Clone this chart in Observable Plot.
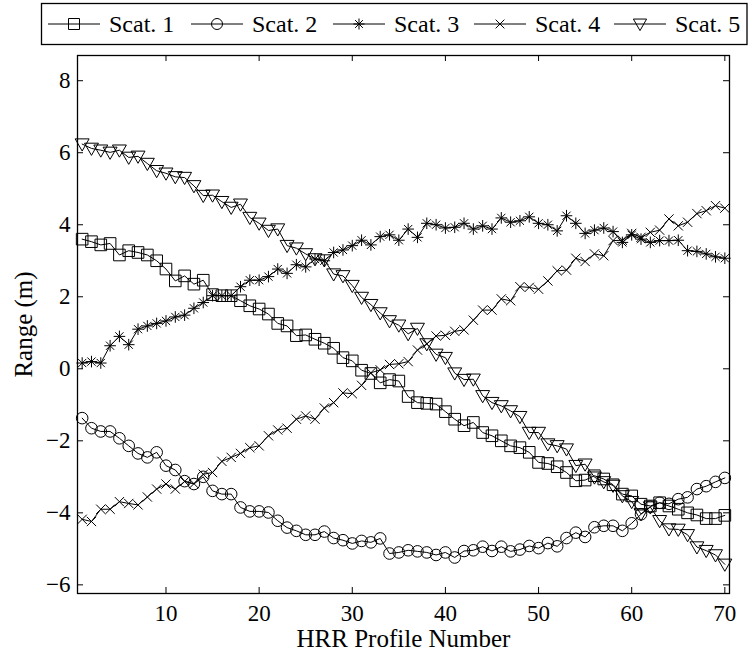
<!DOCTYPE html>
<html><head><meta charset="utf-8">
<script src="https://cdn.jsdelivr.net/npm/d3@7"></script>
<script src="https://cdn.jsdelivr.net/npm/@observablehq/plot@0.6"></script>
<style>
body{margin:0;background:#fff;}
#chart{width:748px;height:655px;position:relative;background:#fff;}
#chart svg{display:block;}
#chart svg, #chart svg text{font-family:"Liberation Serif","Times New Roman",serif !important;}
#chart g[aria-label="x-axis tick label"] text, #chart g[aria-label="y-axis tick label"] text{font-size:23px !important;}
#chart .legtext{font-size:24px !important;}
#chart .axlabel text{font-size:25px !important;}
</style></head><body><div id="chart"></div>
<script>
// ---- data ----
const seriesNames = ["Scat. 1", "Scat. 2", "Scat. 3", "Scat. 4", "Scat. 5"];
const xTicks = [10, 20, 30, 40, 50, 60, 70];
const yTicks = [-6, -4, -2, 0, 2, 4, 6, 8];
const xLabel = "HRR Profile Number";
const yLabel = "Range (m)";

const scat1 = [3.60,3.53,3.44,3.48,3.16,3.28,3.23,3.16,3.00,2.77,
  2.44,2.58,2.35,2.46,2.06,2.03,2.03,1.89,1.75,1.66,
  1.52,1.26,1.19,0.92,0.94,0.82,0.71,0.57,0.31,0.22,
  -0.04,-0.13,-0.39,-0.30,-0.34,-0.77,-0.94,-0.96,-0.98,-1.19,
  -1.40,-1.58,-1.49,-1.77,-1.86,-2.00,-2.14,-2.19,-2.32,-2.60,
  -2.63,-2.72,-2.88,-3.11,-3.09,-2.97,-3.06,-3.22,-3.48,-3.53,
  -3.76,-3.81,-3.72,-3.81,-3.90,-4.00,-4.06,-4.16,-4.16,-4.07];
const scat2 = [-1.37,-1.65,-1.74,-1.74,-1.93,-2.14,-2.35,-2.46,-2.32,-2.69,
  -2.81,-3.12,-3.20,-3.00,-3.39,-3.48,-3.48,-3.85,-3.96,-3.96,
  -3.99,-4.22,-4.41,-4.50,-4.61,-4.61,-4.52,-4.70,-4.76,-4.85,
  -4.78,-4.82,-4.71,-5.13,-5.10,-5.04,-5.07,-5.10,-5.17,-5.10,
  -5.24,-5.06,-5.04,-4.94,-5.06,-4.94,-5.07,-5.02,-4.92,-4.98,
  -4.84,-4.93,-4.70,-4.55,-4.67,-4.40,-4.36,-4.36,-4.50,-4.29,
  -4.04,-3.83,-3.72,-3.75,-3.62,-3.57,-3.34,-3.26,-3.14,-3.03];
const scat3 = [0.16,0.20,0.16,0.64,0.90,0.67,1.10,1.19,1.26,1.33,
  1.44,1.49,1.68,1.84,2.03,2.03,2.03,2.28,2.46,2.46,
  2.56,2.77,2.65,2.89,2.83,3.05,3.00,3.23,3.30,3.42,
  3.57,3.44,3.67,3.72,3.57,3.88,3.65,4.04,4.00,3.91,
  3.93,4.04,3.88,3.97,3.88,4.19,4.07,4.11,4.22,4.04,
  4.00,3.83,4.25,4.04,3.76,3.85,3.91,3.81,3.51,3.72,
  3.60,3.51,3.56,3.56,3.57,3.28,3.26,3.19,3.11,3.07];
const scat4 = [-4.18,-4.24,-3.90,-3.90,-3.69,-3.74,-3.78,-3.56,-3.34,-3.20,
  -3.34,-3.13,-3.19,-2.93,-2.88,-2.57,-2.46,-2.35,-2.19,-2.14,
  -1.86,-1.70,-1.65,-1.40,-1.31,-1.40,-1.09,-0.94,-0.67,-0.69,
  -0.46,-0.11,-0.03,0.12,0.14,0.20,0.52,0.69,0.91,0.93,
  1.04,1.08,1.35,1.63,1.63,1.94,1.89,2.28,2.26,2.21,
  2.44,2.72,2.74,3.07,2.98,3.19,3.14,3.56,3.57,3.76,
  3.65,3.79,3.85,4.16,3.97,4.07,4.31,4.39,4.53,4.46];
const scat5 = [6.24,6.12,6.07,6.01,6.07,5.87,5.90,5.70,5.50,5.43,
  5.33,5.31,5.08,4.81,4.82,4.64,4.48,4.57,4.20,4.04,
  3.84,3.88,3.42,3.35,3.19,3.05,3.02,2.63,2.58,2.31,
  1.98,1.78,1.55,1.33,1.21,0.97,1.12,0.69,0.40,0.31,
  -0.12,-0.30,-0.29,-0.75,-0.94,-1.03,-1.17,-1.33,-1.77,-1.77,
  -2.09,-2.14,-2.23,-2.69,-2.65,-3.01,-3.14,-3.24,-3.53,-3.69,
  -4.03,-3.84,-4.22,-4.45,-4.46,-4.61,-4.95,-5.05,-5.17,-5.43];

// ---- marker shapes ----
function makeSymbol(fn) { return { draw(ctx, size) { fn(ctx, Math.sqrt(size / Math.PI)); } }; }
const symSquare = makeSymbol((c, r) => { const h = r; c.moveTo(-h, -h); c.lineTo(h, -h); c.lineTo(h, h); c.lineTo(-h, h); c.closePath(); });
const symCircle = makeSymbol((c, r) => { c.moveTo(r, 0); c.arc(0, 0, r, 0, 2 * Math.PI); });
const symAst = makeSymbol((c, r) => { for (const a of [0, 45, 90, 135]) { const t = a * Math.PI / 180, dx = r * Math.cos(t), dy = r * Math.sin(t); c.moveTo(-dx, -dy); c.lineTo(dx, dy); } });
const symTimes = makeSymbol((c, r) => { const h = r * 0.8; c.moveTo(-h, -h); c.lineTo(h, h); c.moveTo(h, -h); c.lineTo(-h, h); });
const symTri = makeSymbol((c, r) => { c.moveTo(-r * 1.2, -r * 0.9); c.lineTo(r * 1.2, -r * 0.9); c.lineTo(0, r * 1.2); c.closePath(); });
const symbols = [symSquare, symCircle, symAst, symTimes, symTri];

const allValues = [scat1, scat2, scat3, scat4, scat5];
const rows = allValues.flatMap((vals, k) => vals.map((v, i) => ({ profile: i + 1, range: v, name: seriesNames[k] })));

const FONT = '"Liberation Serif","Times New Roman",serif';
const chart = document.getElementById("chart");

// ---- legend (above the plot) ----
const legH = 47;
const leg = d3.create("svg").attr("width", 748).attr("height", legH).attr("font-family", FONT);
leg.append("rect").attr("x", 41.5).attr("y", 3.5).attr("width", 705.5).attr("height", 41)
  .attr("fill", "white").attr("stroke", "black").attr("stroke-width", 1.3);
const legStarts = [48, 191, 333, 474, 614];
seriesNames.forEach((name, k) => {
  const x0 = legStarts[k], yc = 24;
  const g = leg.append("g");
  g.append("line").attr("x1", x0).attr("x2", x0 + 52).attr("y1", yc).attr("y2", yc).attr("stroke", "black").attr("stroke-width", 1);
  const p = d3.path(); symbols[k].draw(p, 5.5 * 5.5 * Math.PI);
  g.append("path").attr("d", p.toString()).attr("transform", `translate(${x0 + 26},${yc})`)
    .attr("fill", "none").attr("stroke", "black").attr("stroke-width", 1);
  g.append("text").attr("class", "legtext").attr("x", x0 + 61).attr("y", yc).attr("dy", "0.34em")
    .attr("font-family", FONT).attr("font-size", 24).text(name);
});
chart.appendChild(leg.node());

// ---- plot ----
const W = 748, H = 655 - legH;
const mT = 8, mL = 77, mR = 19, mB = H - (593 - legH);
const pw = W - mL - mR, ph = H - mT - mB;
const fmt = d => d < 0 ? "\u2212" + Math.abs(d) : String(d);

const plot = Plot.plot({
  width: W, height: H, marginTop: mT, marginBottom: mB, marginLeft: mL, marginRight: mR,
  style: { fontFamily: FONT, fontSize: "23px", background: "white", color: "black", overflow: "visible" },
  x: { domain: [0.5, 70.5] },
  y: { domain: [-6.24, 8.7] },
  marks: [
    Plot.axisX(xTicks, { tickSize: 0, tickPadding: 11, label: null, fontSize: 23, fontFamily: FONT }),
    Plot.axisY(yTicks, { tickSize: 0, tickPadding: 7, label: null, fontSize: 23, fontFamily: FONT, tickFormat: fmt }),
    Plot.tickX(xTicks, { x: d => d, insetTop: ph - 6, stroke: "black" }),
    Plot.tickX(xTicks, { x: d => d, insetBottom: ph - 6, stroke: "black" }),
    Plot.tickY(yTicks, { y: d => d, insetRight: pw - 6, stroke: "black" }),
    Plot.tickY(yTicks, { y: d => d, insetLeft: pw - 6, stroke: "black" }),
    Plot.line(rows, { x: "profile", y: "range", z: "name", stroke: "black", strokeWidth: 1 }),
    ...seriesNames.map((name, k) => Plot.dot(rows.filter(d => d.name === name),
      { x: "profile", y: "range", symbol: symbols[k], r: 5.8, stroke: "black", fill: "none", strokeWidth: 1 })),
    Plot.frame({ stroke: "black", strokeWidth: 1.3 }),
    Plot.text([xLabel], { frameAnchor: "bottom", dy: 45, fontSize: 25, fontFamily: FONT, lineAnchor: "middle", textAnchor: "middle", className: "axlabel" }),
    Plot.text([yLabel], { frameAnchor: "left", dx: -54, rotate: -90, fontSize: 25, fontFamily: FONT, lineAnchor: "middle", textAnchor: "middle", className: "axlabel" })
  ]
});
chart.appendChild(plot);
</script></body></html>
